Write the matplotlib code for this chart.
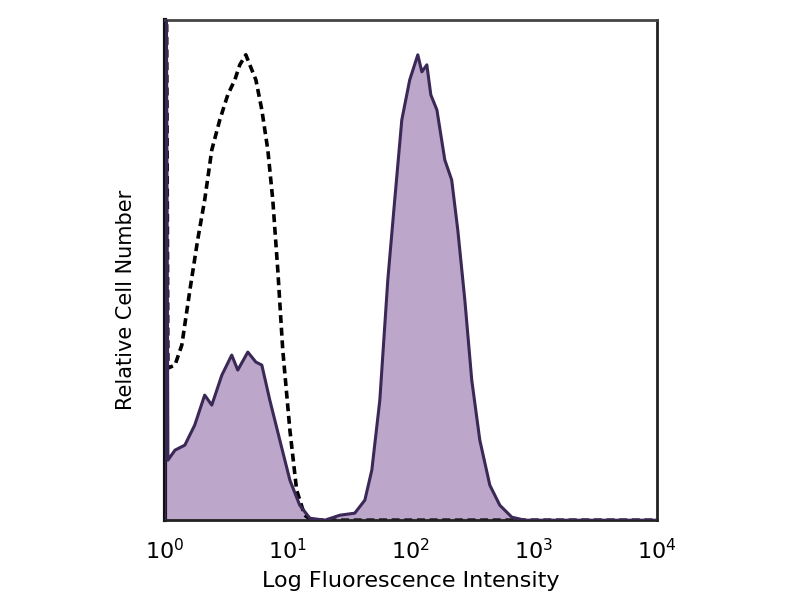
import numpy as np
import matplotlib
matplotlib.use("Agg")
import matplotlib.pyplot as plt

# Stained sample (filled histogram)
stained_x = [1.0, 1.0, 1.06, 1.21, 1.455, 1.75, 2.11, 2.41, 2.91, 3.50, 3.92, 4.73, 5.50, 6.15,
             7.14, 8.61, 10.4, 12.5, 15.1, 20.0, 26.5, 35.0, 42.3, 48.2, 56.0, 65.0, 74.0,
             84.5, 98.0, 114.0, 123.0, 135.0, 145.5, 163.0, 189.0, 215.0, 241.0, 275.0,
             313.0, 364.0, 439.0, 529.0, 663.0, 845.0, 10000.0]
stained_y = [0, 200, 12, 14, 15, 19, 25, 23, 29, 33, 30, 33.6, 31.6, 31,
             24, 16, 8, 3, 0.4, 0, 1, 1.4, 4, 10, 24, 48, 64,
             80, 88, 93, 89.6, 91, 85, 82, 72, 68, 58, 44,
             28, 16, 7, 3, 0.6, 0, 0]

# Isotype control (dashed histogram)
control_x = [1.0, 1.0, 1.06, 1.21, 1.375, 1.60, 1.85, 2.11, 2.41, 2.80, 3.25, 3.71, 4.07, 4.56,
             4.91, 5.50, 6.15, 6.88, 7.55, 8.29, 9.10, 10.4, 11.8, 13.7, 15.7, 10000.0]
control_y = [0, 200, 30.4, 31, 35, 46, 56, 64, 74, 80, 85, 88, 91, 93,
             91, 88, 82, 74, 64, 50, 34, 18, 6, 1, 0, 0]

tick_values = [1, 10, 100, 1000, 10000]
tick_labels = [r"$10^{0}$", r"$10^{1}$", r"$10^{2}$", r"$10^{3}$", r"$10^{4}$"]

fig = plt.figure(figsize=(8, 6), dpi=100)
ax = fig.add_axes([0.206, 0.133, 0.615, 0.834])

ax.fill_between(stained_x, stained_y, 0, color="#bca7cb", linewidth=0, zorder=1)
ax.plot(stained_x, stained_y, color="#3a2856", linewidth=2.2, zorder=3)
ax.plot(control_x, control_y, color="black", linewidth=2.6, linestyle=(0, (2.2, 1.3)), zorder=2)

ax.set_xscale("log")
ax.set_xlim(1, 10000)
ax.set_ylim(0, 100)
ax.set_xticks(tick_values)
ax.set_xticklabels(tick_labels)
ax.minorticks_off()
ax.tick_params(axis="x", length=0, pad=13, labelsize=16)
ax.set_yticks([])
for s in ax.spines.values():
    s.set_linewidth(2.0)
    s.set_color("#222222")
ax.spines["left"].set_linewidth(3.0)
ax.spines["left"].set_color("#111111")
ax.spines["top"].set_color("#444444")

ax.set_xlabel("Log Fluorescence Intensity", fontsize=16)
ax.xaxis.set_label_coords(0.50, -0.102)
ax.set_ylabel("Relative Cell Number", fontsize=15)
ax.yaxis.set_label_coords(-0.058, 0.44)

fig.savefig("out.png", dpi=100)
